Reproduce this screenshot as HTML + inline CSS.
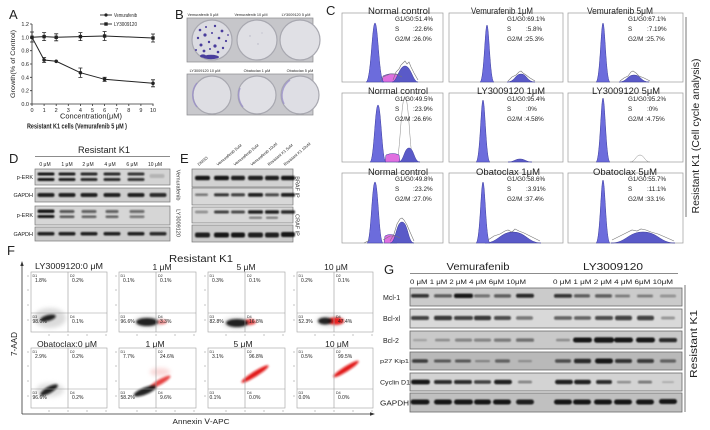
<!DOCTYPE html>
<html><head><meta charset="utf-8">
<style>
html,body{margin:0;padding:0;background:#fff;}
svg{display:block;}
text{font-family:"Liberation Sans",Arial,sans-serif;fill:#222;}
.t5{font-size:5px;fill:#333}
.st{font-size:6.3px;fill:#333}
.ct{font-size:9.5px;fill:#222}
.fl{font-size:5px;fill:#333}
.fd{font-size:3.6px;fill:#555}
.bl{font-size:5.5px;fill:#333}
</style></head><body>
<svg width="710" height="430" viewBox="0 0 710 430" xmlns="http://www.w3.org/2000/svg">
<defs>
<filter id="b1" x="-30%" y="-100%" width="160%" height="300%"><feGaussianBlur stdDeviation="0.7"/></filter>
<filter id="b2" x="-60%" y="-60%" width="220%" height="220%"><feGaussianBlur stdDeviation="2"/></filter>
<filter id="b3" x="-60%" y="-60%" width="220%" height="220%"><feGaussianBlur stdDeviation="1"/></filter>
<filter id="b4" x="-20%" y="-20%" width="140%" height="140%"><feGaussianBlur stdDeviation="0.35"/></filter>
</defs>
<rect width="710" height="430" fill="#fff"/>

<!-- ================= PANEL A ================= -->
<text x="9" y="19" font-size="13">A</text>
<g stroke="#333" stroke-width="0.8" fill="none">
<line x1="32" y1="24" x2="32" y2="104.4"/>
<line x1="31.6" y1="104" x2="153.5" y2="104"/>
<path d="M30 24H32M30 37.3H32M30 50.7H32M30 64H32M30 77.3H32M30 90.7H32M30 104H32"/>
<path d="M32 104V106M44.1 104V106M56.2 104V106M68.3 104V106M80.4 104V106M92.5 104V106M104.6 104V106M116.7 104V106M128.8 104V106M140.9 104V106M153 104V106"/>
</g>
<g font-size="5.5" text-anchor="end" fill="#333">
<text x="29" y="26">1.2</text><text x="29" y="39.3">1.0</text><text x="29" y="52.7">0.8</text><text x="29" y="66">0.6</text><text x="29" y="79.3">0.4</text><text x="29" y="92.7">0.2</text><text x="29" y="106">0.0</text>
</g>
<g font-size="5.5" text-anchor="middle" fill="#333">
<text x="32" y="112">0</text><text x="44.1" y="112">1</text><text x="56.2" y="112">2</text><text x="68.3" y="112">3</text><text x="80.4" y="112">4</text><text x="92.5" y="112">5</text><text x="104.6" y="112">6</text><text x="116.7" y="112">7</text><text x="128.8" y="112">8</text><text x="140.9" y="112">9</text><text x="153" y="112">10</text>
</g>
<text transform="translate(15,64) rotate(-90)" font-size="6" text-anchor="middle" textLength="68" lengthAdjust="spacingAndGlyphs" fill="#333">Growth(% of Control)</text>
<text x="91" y="118.5" font-size="7.5" text-anchor="middle" textLength="62" lengthAdjust="spacingAndGlyphs" fill="#333">Concentration(μM)</text>
<text x="77" y="128.5" font-size="7" font-weight="bold" text-anchor="middle" textLength="100" lengthAdjust="spacingAndGlyphs">Resistant K1 cells (Vemurafenib 5 μM )</text>
<!-- legend -->
<g stroke="#222" stroke-width="0.9">
<line x1="100" y1="15" x2="112" y2="15"/><line x1="100" y1="24" x2="112" y2="24"/>
</g>
<circle cx="106" cy="15" r="1.6" fill="#222"/>
<rect x="104.3" y="22.3" width="3.4" height="3.4" fill="#222"/>
<text x="114" y="17" font-size="5.5" textLength="23" lengthAdjust="spacingAndGlyphs" fill="#444">Vemurafenib</text>
<text x="114" y="26" font-size="5.5" textLength="23" lengthAdjust="spacingAndGlyphs" fill="#444">LY3009120</text>
<!-- series -->
<g stroke="#222" stroke-width="1" fill="none">
<polyline points="32,37.3 44.1,36.6 56.2,37.3 80.4,36.6 104.6,36 153,38"/>
<polyline points="32,37.3 44.1,60 56.2,61.3 80.4,72.7 104.6,79.3 153,83.3"/>
<g stroke-width="0.8">
<path d="M32 32V42M30 32H34M30 42H34"/>
<path d="M44.1 32.6V40.6M42.1 32.6H46.1M42.1 40.6H46.1"/>
<path d="M56.2 33.8V40.8M54.2 33.8H58.2M54.2 40.8H58.2"/>
<path d="M80.4 32.6V40.6M78.4 32.6H82.4M78.4 40.6H82.4"/>
<path d="M104.6 31.5V40.5M102.6 31.5H106.6M102.6 40.5H106.6"/>
<path d="M153 34V42M151 34H155M151 42H155"/>
<path d="M44.1 57.5V62.5M42.1 57.5H46.1M42.1 62.5H46.1"/>
<path d="M80.4 68V77.4M78.4 68H82.4M78.4 77.4H82.4"/>
<path d="M104.6 77.3V81.3M102.6 77.3H106.6M102.6 81.3H106.6"/>
<path d="M153 79.8V86.8M151 79.8H155M151 86.8H155"/>
</g>
</g>
<g fill="#222">
<rect x="30.3" y="35.6" width="3.4" height="3.4"/><rect x="42.4" y="34.9" width="3.4" height="3.4"/><rect x="54.5" y="35.6" width="3.4" height="3.4"/><rect x="78.7" y="34.9" width="3.4" height="3.4"/><rect x="102.9" y="34.3" width="3.4" height="3.4"/><rect x="151.3" y="36.3" width="3.4" height="3.4"/>
<circle cx="44.1" cy="60" r="1.8"/><circle cx="56.2" cy="61.3" r="1.8"/><circle cx="80.4" cy="72.7" r="1.8"/><circle cx="104.6" cy="79.3" r="1.8"/><circle cx="153" cy="83.3" r="1.8"/>
</g>

<!-- ================= PANEL B ================= -->
<text x="175" y="19" font-size="13">B</text>
<g font-size="3.8" fill="#555" text-anchor="middle">
<text x="203" y="16">Vemurafenib 5 μM</text><text x="251" y="16">Vemurafenib 10 μM</text><text x="296" y="16">LY3009120 5 μM</text>
<text x="205" y="72">LY3009120 10 μM</text><text x="257" y="72">Obatoclax 1 μM</text><text x="300" y="72">Obatoclax 5 μM</text>
</g>
<rect x="187" y="18" width="126" height="44" fill="#c6c6ca" stroke="#8a8a8e" stroke-width="0.7"/>
<rect x="187" y="74" width="126" height="41" fill="#c8c8cc" stroke="#8a8a8e" stroke-width="0.7"/>
<g stroke="#a8a8b0" stroke-width="1.2">
<circle cx="212" cy="40" r="20" fill="#dcdce2"/>
<circle cx="257" cy="40" r="20" fill="#dfdfe4"/>
<circle cx="300" cy="40" r="20" fill="#e0e0e5"/>
<circle cx="212" cy="95" r="19" fill="#dedee3"/>
<circle cx="257" cy="95" r="19" fill="#e0e0e5"/>
<circle cx="300" cy="95" r="19" fill="#dedee4"/>
</g>
<clipPath id="cpB"><rect x="187" y="18" width="126" height="97"/></clipPath>
<g clip-path="url(#cpB)" fill="none" stroke="#9a90c8" stroke-width="1.5" opacity="0.8">
<path d="M197 107 A19 19 0 0 1 197 83"/>
<path d="M284 104 A19 19 0 0 1 290 80"/>
<path d="M243 107 A19 19 0 0 1 240 88"/>
</g>
<g fill="#4a3c9c" filter="url(#b4)">
<circle cx="200" cy="30" r="1.3"/><circle cx="206" cy="27" r="1"/><circle cx="215" cy="26" r="1.2"/><circle cx="222" cy="31" r="1.4"/><circle cx="198" cy="38" r="1.2"/><circle cx="205" cy="35" r="1.6"/><circle cx="212" cy="33" r="1"/><circle cx="219" cy="38" r="1.3"/><circle cx="226" cy="41" r="1.1"/><circle cx="201" cy="45" r="1.5"/><circle cx="209" cy="42" r="1.2"/><circle cx="215" cy="46" r="1.6"/><circle cx="223" cy="48" r="1.2"/><circle cx="196" cy="50" r="1"/><circle cx="204" cy="51" r="1.4"/><circle cx="210" cy="49" r="1"/><circle cx="228" cy="35" r="0.9"/><circle cx="218" cy="52" r="1.3"/>
<ellipse cx="211" cy="57" rx="8" ry="2.2"/><ellipse cx="203" cy="56" rx="3" ry="1.6"/>
</g>
<g fill="#9a9ab0" opacity="0.6"><circle cx="250" cy="36" r="0.7"/><circle cx="258" cy="44" r="0.7"/><circle cx="262" cy="33" r="0.6"/></g>

<!-- ================= PANEL C ================= -->
<text x="326" y="15" font-size="13">C</text>
<g fill="#fff" stroke="#9a9a9a" stroke-width="0.7">
<rect x="342" y="13" width="101" height="69"/><rect x="449" y="13" width="114" height="69"/><rect x="568" y="13" width="115" height="69"/>
<rect x="342" y="93" width="101" height="69"/><rect x="449" y="93" width="114" height="69"/><rect x="568" y="93" width="115" height="69"/>
<rect x="342" y="173" width="101" height="70"/><rect x="449" y="173" width="114" height="70"/><rect x="568" y="173" width="115" height="70"/>
</g>
<!-- histograms -->
<g stroke="#3a3a9a" stroke-width="0.5">
<!-- r1c1 -->
<path d="M382 82 L383 76 Q391 72 398 75 L400 82Z" fill="#e070e0"/>
<path d="M392 82 C397 82 399 66 405 66 C411 66 413 82 418 82Z" fill="#5a5ac8"/>
<path d="M366 82 C371 82 372 23 375 23 C378 23 379 82 384 82Z" fill="#6c6cdc"/>
<!-- r1c2 -->
<path d="M507 82 C515 82 515 74 521 74 C527 74 527 82 535 82Z" fill="#5a5ac8"/>
<path d="M480 82 C484 82 485 25 487 25 C489 25 490 82 494 82Z" fill="#6c6cdc"/>
<!-- r1c3 -->
<path d="M619 82 C627 82 627 75 634 75 C641 75 641 82 649 82Z" fill="#5a5ac8"/>
<path d="M596 82 C600 82 601 23 603 23 C605 23 606 82 610 82Z" fill="#6c6cdc"/>
<!-- r2c1 -->
<path d="M396 162 C400 162 401 97 405 97 C409 97 410 162 414 162Z" fill="#fff" stroke="#888"/>
<path d="M385 162 L386 155 Q393 152 399 155 L400 162Z" fill="#e070e0"/>
<path d="M398 162 C404 162 404 148 409 148 C414 148 414 162 420 162Z" fill="#5a5ac8"/>
<path d="M370 162 C374 162 375 105 378 105 C381 105 382 162 386 162Z" fill="#6c6cdc"/>
<!-- r2c2 -->
<path d="M508 162 C514 162 515 159 520 159 C525 159 526 162 532 162Z" fill="#5a5ac8"/>
<path d="M476 162 C480 162 481 100 483 100 C485 100 486 162 490 162Z" fill="#6c6cdc"/>
<!-- r2c3 -->
<path d="M630 162 C635 162 636 155 640 155 C644 155 645 162 650 162Z" fill="none" stroke="#888"/>
<path d="M596 162 C600 162 601 98 603 98 C605 98 606 162 610 162Z" fill="#6c6cdc"/>
<!-- r3c1 -->
<path d="M384 243 L385 236 Q390 233 396 236 L397 243Z" fill="#e070e0"/>
<path d="M390 243 C396 243 396 222 402 222 C408 222 408 243 414 243Z" fill="#5a5ac8"/>
<path d="M367 243 C371 243 372 182 375 182 C378 182 379 243 383 243Z" fill="#6c6cdc"/>
<!-- r3c2 -->
<path d="M485 243 C498 243 500 232 513 232 C526 232 528 243 541 243Z" fill="#5a5ac8"/>
<path d="M476 243 C480 243 481 182 483 182 C485 182 486 243 490 243Z" fill="#6c6cdc"/>
<!-- r3c3 -->
<path d="M611 243 C626 243 628 232 643 232 C658 232 660 243 675 243Z" fill="#5a5ac8"/>
<path d="M596 243 C600 243 601 180 603 180 C605 180 606 243 610 243Z" fill="#6c6cdc"/>
</g>
<g fill="none" stroke="#777" stroke-width="0.6">
<path d="M393 80 L396 72 399 69 401 65 403 63 405 61 407 64 409 62 411 67 414 73 418 80"/>
<path d="M508 81 L512 77 516 75 519 72 521 71 523 73 526 75 530 78 535 81"/>
<path d="M620 81 L624 78 628 76 631 72 633 71 636 73 639 76 644 78 650 81"/>
<path d="M390 241 L394 234 397 224 400 219 402 218 404 220 407 225 410 232 414 241"/>
<path d="M488 240 L494 236 500 234 505 231 508 230 512 232 515 229 519 231 524 233 530 236 540 241"/>
<path d="M612 240 L620 236 626 233 632 230 637 231 641 229 646 230 651 232 658 234 665 237 674 241"/>
<path d="M380 82 L383 77 390 74 397 74 402 77"/>
<path d="M364 243 L370 240 M383 240 L390 236 396 236 400 238"/>
</g>
<!-- C titles -->
<g class="ct" text-anchor="middle">
<text x="399" y="14" textLength="62" lengthAdjust="spacingAndGlyphs">Normal control</text>
<text x="502" y="14" textLength="62" lengthAdjust="spacingAndGlyphs">Vemurafenib 1μM</text>
<text x="620" y="14" textLength="66" lengthAdjust="spacingAndGlyphs">Vemurafenib 5μM</text>
<text x="398" y="94" textLength="60" lengthAdjust="spacingAndGlyphs">Normal control</text>
<text x="511" y="94" textLength="68" lengthAdjust="spacingAndGlyphs">LY3009120 1μM</text>
<text x="626" y="94" textLength="68" lengthAdjust="spacingAndGlyphs">LY3009120 5μM</text>
<text x="398" y="175" textLength="60" lengthAdjust="spacingAndGlyphs">Normal control</text>
<text x="508" y="175" textLength="64" lengthAdjust="spacingAndGlyphs">Obatoclax 1μM</text>
<text x="625" y="175" textLength="64" lengthAdjust="spacingAndGlyphs">Obatoclax 5μM</text>
</g>
<!-- C stats -->
<g class="st">
<text x="395" y="21">G1/G0:51.4%</text><text x="395" y="31">S</text><text x="413" y="31">:22.6%</text><text x="395" y="41">G2/M :26.0%</text>
<text x="507" y="21">G1/G0:69.1%</text><text x="507" y="31">S</text><text x="526" y="31">:5.8%</text><text x="507" y="41">G2/M :25.3%</text>
<text x="628" y="21">G1/G0:67.1%</text><text x="628" y="31">S</text><text x="647" y="31">:7.19%</text><text x="628" y="41">G2/M :25.7%</text>
<text x="395" y="101">G1/G0:49.5%</text><text x="395" y="111">S</text><text x="413" y="111">:23.9%</text><text x="395" y="121">G2/M :26.6%</text>
<text x="507" y="101">G1/G0:95.4%</text><text x="507" y="111">S</text><text x="526" y="111">:0%</text><text x="507" y="121">G2/M :4.58%</text>
<text x="628" y="101">G1/G0:95.2%</text><text x="628" y="111">S</text><text x="647" y="111">:0%</text><text x="628" y="121">G2/M :4.75%</text>
<text x="395" y="181">G1/G0:49.8%</text><text x="395" y="191">S</text><text x="413" y="191">:23.2%</text><text x="395" y="201">G2/M :27.0%</text>
<text x="507" y="181">G1/G0:58.6%</text><text x="507" y="191">S</text><text x="526" y="191">:3.91%</text><text x="507" y="201">G2/M :37.4%</text>
<text x="628" y="181">G1/G0:55.7%</text><text x="628" y="191">S</text><text x="647" y="191">:11.1%</text><text x="628" y="201">G2/M :33.1%</text>
</g>
<line x1="686" y1="17" x2="686" y2="217" stroke="#555" stroke-width="0.8"/>
<text transform="translate(699,136) rotate(-90)" font-size="10" text-anchor="middle" textLength="155" lengthAdjust="spacingAndGlyphs">Resistant K1 (Cell cycle analysis)</text>

<!-- ================= PANEL D ================= -->
<text x="9" y="163" font-size="13">D</text>
<text x="104" y="153" font-size="9" text-anchor="middle" textLength="52" lengthAdjust="spacingAndGlyphs">Resistant K1</text>
<line x1="35" y1="156.5" x2="170" y2="156.5" stroke="#666" stroke-width="0.7"/>
<g class="t5" text-anchor="middle">
<text x="45" y="166">0 μM</text><text x="67" y="166">1 μM</text><text x="88" y="166">2 μM</text><text x="110" y="166">4 μM</text><text x="132" y="166">6 μM</text><text x="155" y="166">10 μM</text>
</g>
<g stroke="#777" stroke-width="0.7">
<rect x="35" y="169" width="135" height="16" fill="#d4d4d4"/>
<rect x="35" y="188" width="135" height="14" fill="#cdcdcd"/>
<rect x="35" y="206" width="135" height="19" fill="#d6d6d6"/>
<rect x="35" y="227" width="135" height="14" fill="#cbcbcb"/>
</g>
<g fill="#111" filter="url(#b1)">
<!-- r1 double -->
<rect x="37.5" y="172.5" width="17" height="3" rx="1.5" opacity=".95"/><rect x="37.5" y="178" width="17" height="3" rx="1.5" opacity=".95"/>
<rect x="58.5" y="172.5" width="17" height="3" rx="1.5" opacity=".9"/><rect x="58.5" y="178" width="17" height="3" rx="1.5" opacity=".9"/>
<rect x="80.5" y="172.5" width="17" height="3" rx="1.5" opacity=".85"/><rect x="80.5" y="178" width="17" height="3" rx="1.5" opacity=".85"/>
<rect x="103.5" y="172.5" width="17" height="3" rx="1.5" opacity=".85"/><rect x="103.5" y="178" width="17" height="3" rx="1.5" opacity=".85"/>
<rect x="127.5" y="172.5" width="17" height="3" rx="1.5" opacity=".8"/><rect x="127.5" y="178" width="17" height="3" rx="1.5" opacity=".8"/>
<rect x="149.5" y="174" width="15" height="4" rx="1.5" opacity=".15"/>
<!-- r2 -->
<rect x="37.5" y="193" width="17" height="4" rx="2" opacity=".9"/><rect x="58.5" y="193" width="17" height="4" rx="2" opacity=".9"/><rect x="80.5" y="193" width="17" height="4" rx="2" opacity=".9"/><rect x="103.5" y="193" width="17" height="4" rx="2" opacity=".9"/><rect x="127.5" y="193" width="17" height="4" rx="2" opacity=".9"/><rect x="149.5" y="193" width="17" height="4" rx="2" opacity=".85"/>
<!-- r3 double -->
<rect x="37.5" y="209.5" width="17" height="3.5" rx="1.5" opacity=".95"/><rect x="37.5" y="215" width="17" height="3" rx="1.5" opacity=".95"/>
<rect x="59.5" y="210" width="15" height="3" rx="1.5" opacity=".65"/><rect x="59.5" y="215.5" width="15" height="2.5" rx="1.2" opacity=".65"/>
<rect x="81.5" y="210" width="15" height="3" rx="1.5" opacity=".6"/><rect x="81.5" y="215.5" width="15" height="2.5" rx="1.2" opacity=".6"/>
<rect x="105.5" y="210" width="13" height="3" rx="1.5" opacity=".6"/><rect x="105.5" y="215.5" width="13" height="2.5" rx="1.2" opacity=".6"/>
<rect x="129.5" y="210" width="15" height="3" rx="1.5" opacity=".55"/><rect x="129.5" y="215.5" width="15" height="2.5" rx="1.2" opacity=".5"/>
<!-- r4 -->
<rect x="37.5" y="232" width="17" height="3.5" rx="1.7" opacity=".9"/><rect x="58.5" y="232" width="17" height="3.5" rx="1.7" opacity=".9"/><rect x="80.5" y="232" width="17" height="3.5" rx="1.7" opacity=".9"/><rect x="103.5" y="232" width="17" height="3.5" rx="1.7" opacity=".9"/><rect x="127.5" y="232" width="17" height="3.5" rx="1.7" opacity=".9"/><rect x="149.5" y="232" width="17" height="3.5" rx="1.7" opacity=".85"/>
</g>
<g class="bl" text-anchor="end">
<text x="33" y="179">p-ERK</text><text x="33" y="197">GAPDH</text><text x="33" y="217">p-ERK</text><text x="33" y="236">GAPDH</text>
</g>
<text transform="translate(176.5,185) rotate(90)" class="bl" text-anchor="middle">Vemurafenib</text>
<text transform="translate(176.5,223) rotate(90)" class="bl" text-anchor="middle">LY3009120</text>

<!-- ================= PANEL E ================= -->
<text x="180" y="163" font-size="13">E</text>
<g font-size="4" fill="#444">
<text transform="translate(199,166) rotate(-40)">DMSO</text>
<text transform="translate(218,166) rotate(-40)">Vemurafenib 5uM</text>
<text transform="translate(235,166) rotate(-40)">Vemurafenib 5uM</text>
<text transform="translate(252,166) rotate(-40)">Vemurafenib 10uM</text>
<text transform="translate(269,166) rotate(-40)">Resistant K1 5uM</text>
<text transform="translate(285,166) rotate(-40)">Resistant K1 10uM</text>
</g>
<g stroke="#777" stroke-width="0.7">
<rect x="192" y="169" width="101" height="18" fill="#d2d2d2"/>
<rect x="192" y="188" width="101" height="17" fill="#d8d8d8"/>
<rect x="192" y="207" width="101" height="16" fill="#d8d8d8"/>
<rect x="192" y="225" width="101" height="17" fill="#cbcbcb"/>
</g>
<g fill="#111" filter="url(#b1)">
<rect x="195" y="175.8" width="15" height="4.5" rx="2" opacity=".95"/><rect x="214" y="175.8" width="15" height="4.5" rx="2" opacity=".95"/><rect x="231" y="175.8" width="14" height="4.5" rx="2" opacity=".9"/><rect x="248" y="175.8" width="15" height="4.5" rx="2" opacity=".9"/><rect x="265" y="175.8" width="14" height="4.5" rx="2" opacity=".9"/><rect x="281" y="175.8" width="14" height="4.5" rx="2" opacity=".95"/>
<rect x="195" y="193.5" width="13" height="2.5" rx="1.2" opacity=".5"/><rect x="214" y="193.2" width="15" height="3.2" rx="1.5" opacity=".8"/><rect x="231" y="193.2" width="14" height="3.2" rx="1.5" opacity=".75"/><rect x="248" y="193" width="15" height="3.8" rx="1.5" opacity=".9"/><rect x="265" y="193.2" width="14" height="3.2" rx="1.5" opacity=".7"/><rect x="281" y="193" width="14" height="3.8" rx="1.5" opacity=".9"/>
<rect x="195" y="210.8" width="13" height="2.4" rx="1.2" opacity=".4"/><rect x="214" y="210.5" width="15" height="3" rx="1.5" opacity=".75"/><rect x="231" y="210.5" width="14" height="3" rx="1.5" opacity=".7"/><rect x="248" y="210.2" width="15" height="3.5" rx="1.5" opacity=".9"/><rect x="265" y="210.2" width="14" height="3.5" rx="1.5" opacity=".9"/><rect x="281" y="210.2" width="14" height="3.5" rx="1.5" opacity=".85"/>
<rect x="249" y="216.8" width="13" height="2" rx="1" opacity=".5"/><rect x="266" y="216.8" width="12" height="2" rx="1" opacity=".5"/>
<rect x="195" y="232.5" width="15" height="5" rx="2" opacity=".9"/><rect x="214" y="232.5" width="15" height="5" rx="2" opacity=".95"/><rect x="231" y="232.5" width="14" height="5" rx="2" opacity=".95"/><rect x="248" y="232.5" width="15" height="5" rx="2" opacity=".9"/><rect x="265" y="232.5" width="14" height="5" rx="2" opacity=".9"/><rect x="281" y="232" width="14" height="5" rx="2" opacity=".95"/>
</g>
<text transform="translate(295.5,187) rotate(90)" class="bl" text-anchor="middle">BRAF IP</text>
<text transform="translate(295.5,225) rotate(90)" class="bl" text-anchor="middle">CRAF IP</text>

<!-- ================= PANEL F ================= -->
<text x="7" y="255" font-size="13">F</text>
<text x="201" y="262" font-size="10" text-anchor="middle" textLength="64" lengthAdjust="spacingAndGlyphs">Resistant K1</text>
<g font-size="8.5" text-anchor="middle">
<text x="69" y="269" textLength="68" lengthAdjust="spacingAndGlyphs">LY3009120:0 μM</text>
<text x="162" y="270">1 μM</text><text x="246" y="270">5 μM</text><text x="336" y="270">10 μM</text>
<text x="67" y="347" textLength="60" lengthAdjust="spacingAndGlyphs">Obatoclax:0 μM</text>
<text x="155" y="347">1 μM</text><text x="243" y="347">5 μM</text><text x="337" y="347">10 μM</text>
</g>
<!-- axes -->
<g stroke="#333" stroke-width="0.8" fill="none">
<line x1="22" y1="264" x2="22" y2="414"/>
<line x1="22" y1="414" x2="372" y2="414"/>
</g>
<path d="M22 261 L20.3 266 L23.7 266Z" fill="#333"/>
<path d="M375 414 L370 412.3 L370 415.7Z" fill="#333"/>
<text transform="translate(17,344) rotate(-90)" font-size="8" text-anchor="middle" textLength="24" lengthAdjust="spacingAndGlyphs">7-AAD</text>
<text x="201" y="424" font-size="7.5" text-anchor="middle" textLength="57" lengthAdjust="spacingAndGlyphs">Annexin Ⅴ-APC</text>
<!-- plot frames -->
<g fill="#fff" stroke="#a0a0a0" stroke-width="0.6">
<rect x="31" y="272" width="76" height="60"/><rect x="119" y="272" width="77" height="60"/><rect x="208" y="272" width="77" height="60"/><rect x="297" y="272" width="76" height="60"/>
<rect x="31" y="348" width="76" height="60"/><rect x="119" y="348" width="77" height="60"/><rect x="208" y="348" width="77" height="60"/><rect x="297" y="348" width="76" height="60"/>
</g>
<!-- clouds -->
<g>
<ellipse cx="50" cy="318" rx="16" ry="10" fill="#999" opacity=".35" filter="url(#b2)"/>
<ellipse cx="48" cy="318" rx="8" ry="3" fill="#111" opacity=".9" filter="url(#b3)" transform="rotate(-15 48 318)"/>
<ellipse cx="148" cy="322" rx="14" ry="6" fill="#aaa" opacity=".4" filter="url(#b2)"/>
<ellipse cx="162" cy="322" rx="5" ry="2.5" fill="#e02020" opacity=".5" filter="url(#b3)"/>
<ellipse cx="147" cy="322" rx="11" ry="4" fill="#111" opacity=".9" filter="url(#b3)"/>
<ellipse cx="237" cy="323" rx="14" ry="6" fill="#aaa" opacity=".4" filter="url(#b2)"/>
<ellipse cx="250" cy="322" rx="6" ry="3" fill="#e01818" opacity=".75" filter="url(#b3)"/>
<ellipse cx="237" cy="323" rx="11" ry="4" fill="#111" opacity=".9" filter="url(#b3)"/>
<ellipse cx="330" cy="321" rx="14" ry="6" fill="#aaa" opacity=".35" filter="url(#b2)"/>
<ellipse cx="336" cy="321" rx="8" ry="3.8" fill="#e81010" opacity=".9" filter="url(#b3)"/>
<ellipse cx="325" cy="321" rx="7" ry="3.5" fill="#111" opacity=".9" filter="url(#b3)"/>
<ellipse cx="50" cy="390" rx="14" ry="7" fill="#aaa" opacity=".35" filter="url(#b2)"/>
<ellipse cx="49" cy="390" rx="10" ry="3.2" fill="#111" opacity=".9" filter="url(#b3)" transform="rotate(-30 49 390)"/>
<ellipse cx="160" cy="382" rx="12" ry="2.6" fill="#e01818" opacity=".8" filter="url(#b3)" transform="rotate(-30 160 382)"/>
<ellipse cx="160" cy="372" rx="10" ry="4" fill="#f09090" opacity=".35" filter="url(#b2)"/>
<ellipse cx="145" cy="391" rx="12" ry="3.5" fill="#111" opacity=".9" filter="url(#b3)" transform="rotate(-22 145 391)"/>
<ellipse cx="255" cy="374" rx="16" ry="2.6" fill="#e01010" opacity=".95" filter="url(#b3)" transform="rotate(-32 255 374)"/>
<ellipse cx="346" cy="369" rx="15" ry="2.6" fill="#e01010" opacity=".95" filter="url(#b3)" transform="rotate(-32 346 369)"/>
</g>
<!-- quadrant lines -->
<g stroke="#999" stroke-width="0.6">
<path d="M68 272V332M31 313H107M156 272V332M119 313H196M245 272V332M208 313H285M334 272V332M297 313H373"/>
<path d="M68 348V408M31 389H107M156 348V408M119 389H196M245 348V408M208 389H285M334 348V408M297 389H373"/>
</g>
<!-- quadrant labels -->
<g class="fd">
<text x="32.5" y="277">D1</text><text x="70" y="277">D2</text><text x="32.5" y="318">D3</text><text x="70" y="318">D4</text>
<text x="120.5" y="277">D1</text><text x="158" y="277">D2</text><text x="120.5" y="318">D3</text><text x="158" y="318">D4</text>
<text x="209.5" y="277">D1</text><text x="247" y="277">D2</text><text x="209.5" y="318">D3</text><text x="247" y="318">D4</text>
<text x="298.5" y="277">D1</text><text x="336" y="277">D2</text><text x="298.5" y="318">D3</text><text x="336" y="318">D4</text>
<text x="32.5" y="353">D1</text><text x="70" y="353">D2</text><text x="32.5" y="394">D3</text><text x="70" y="394">D4</text>
<text x="120.5" y="353">D1</text><text x="158" y="353">D2</text><text x="120.5" y="394">D3</text><text x="158" y="394">D4</text>
<text x="209.5" y="353">D1</text><text x="247" y="353">D2</text><text x="209.5" y="394">D3</text><text x="247" y="394">D4</text>
<text x="298.5" y="353">D1</text><text x="336" y="353">D2</text><text x="298.5" y="394">D3</text><text x="336" y="394">D4</text>
</g>
<g class="fl">
<text x="35" y="282">1.8%</text><text x="72" y="282">0.2%</text><text x="32.5" y="323">98.0%</text><text x="72" y="323">0.1%</text>
<text x="123" y="282">0.1%</text><text x="160" y="282">0.1%</text><text x="120.5" y="323">96.6%</text><text x="160" y="323">3.3%</text>
<text x="212" y="282">0.3%</text><text x="249" y="282">0.1%</text><text x="209.5" y="323">82.8%</text><text x="249" y="323">16.8%</text>
<text x="301" y="282">0.2%</text><text x="338" y="282">0.1%</text><text x="298.5" y="323">52.3%</text><text x="338" y="323">47.4%</text>
<text x="35" y="358">2.9%</text><text x="72" y="358">0.2%</text><text x="32.5" y="399">96.6%</text><text x="72" y="399">0.2%</text>
<text x="123" y="358">7.7%</text><text x="160" y="358">24.6%</text><text x="120.5" y="399">58.2%</text><text x="160" y="399">9.6%</text>
<text x="212" y="358">3.1%</text><text x="249" y="358">96.8%</text><text x="209.5" y="399">0.1%</text><text x="249" y="399">0.0%</text>
<text x="301" y="358">0.5%</text><text x="338" y="358">99.5%</text><text x="298.5" y="399">0.0%</text><text x="338" y="399">0.0%</text>
</g>
<!-- tick marks -->
<g stroke="#888" stroke-width="0.5">
<path d="M27 276H29M27 290H29M27 305H29M27 320H29M27 352H29M27 366H29M27 381H29M27 396H29"/>
<path d="M115 276H117M115 290H117M115 305H117M115 320H117M115 352H117M115 366H117M115 381H117M115 396H117"/>
<path d="M204 276H206M204 290H206M204 305H206M204 320H206M204 352H206M204 366H206M204 381H206M204 396H206"/>
<path d="M293 276H295M293 290H295M293 305H295M293 320H295M293 352H295M293 366H295M293 381H295M293 396H295"/>
<path d="M49 334V336M68 334V336M87 334V336M106 334V336M137 334V336M156 334V336M175 334V336M194 334V336M226 334V336M245 334V336M264 334V336M283 334V336M315 334V336M334 334V336M353 334V336M372 334V336"/>
<path d="M49 410V412M68 410V412M87 410V412M106 410V412M137 410V412M156 410V412M175 410V412M194 410V412M226 410V412M245 410V412M264 410V412M283 410V412M315 410V412M334 410V412M353 410V412M372 410V412"/>
</g>

<!-- ================= PANEL G ================= -->
<text x="384" y="274" font-size="13">G</text>
<text x="478" y="270" font-size="10" text-anchor="middle" textLength="63" lengthAdjust="spacingAndGlyphs">Vemurafenib</text>
<text x="613" y="270" font-size="10" text-anchor="middle" textLength="60" lengthAdjust="spacingAndGlyphs">LY3009120</text>
<line x1="410" y1="273.5" x2="678" y2="273.5" stroke="#666" stroke-width="0.7"/>
<text x="410" y="284" font-size="6.5" textLength="116" lengthAdjust="spacingAndGlyphs" fill="#333">0 μM 1 μM 2 μM 4 μM 6μM 10μM</text>
<text x="553" y="284" font-size="6.5" textLength="120" lengthAdjust="spacingAndGlyphs" fill="#333">0 μM 1 μM 2 μM 4 μM 6μM 10μM</text>
<g stroke="#6a6a6a" stroke-width="0.8">
<rect x="410" y="288" width="272" height="18" fill="#cbcbcb"/>
<rect x="410" y="309" width="272" height="19" fill="#d9d9d9"/>
<rect x="410" y="331" width="272" height="18" fill="#c9c9c9"/>
<rect x="410" y="352" width="272" height="18" fill="#b9b9b9"/>
<rect x="410" y="373" width="272" height="18" fill="#d3d3d3"/>
<rect x="410" y="393" width="272" height="19" fill="#c0c0c0"/>
</g>
<g fill="#111" filter="url(#b1)">
<!-- Mcl-1 y296 -->
<rect x="411" y="294" width="18" height="3.6" rx="1.8" opacity=".8"/><rect x="434" y="294.3" width="18" height="3.2" rx="1.6" opacity=".6"/><rect x="454" y="293.6" width="19" height="4.4" rx="2" opacity=".95"/><rect x="474" y="294.4" width="16" height="3" rx="1.5" opacity=".5"/><rect x="494" y="294.2" width="17" height="3.4" rx="1.6" opacity=".6"/><rect x="516" y="293.8" width="18" height="4" rx="2" opacity=".85"/>
<rect x="554" y="294" width="18" height="3.8" rx="1.8" opacity=".8"/><rect x="574" y="294.3" width="16" height="3.2" rx="1.6" opacity=".6"/><rect x="595" y="294.2" width="17" height="3.4" rx="1.6" opacity=".6"/><rect x="615" y="294.6" width="15" height="2.8" rx="1.4" opacity=".45"/><rect x="637" y="294.6" width="16" height="2.8" rx="1.4" opacity=".45"/><rect x="660" y="294.7" width="16" height="2.6" rx="1.3" opacity=".35"/>
<!-- Bcl-xl y318 -->
<rect x="411" y="316" width="18" height="4" rx="2" opacity=".75"/><rect x="434" y="315.8" width="18" height="4.4" rx="2" opacity=".8"/><rect x="454" y="316" width="19" height="4" rx="2" opacity=".75"/><rect x="474" y="315.8" width="17" height="4.4" rx="2" opacity=".8"/><rect x="494" y="316" width="17" height="4" rx="2" opacity=".7"/><rect x="516" y="316.2" width="17" height="3.6" rx="1.8" opacity=".5"/>
<rect x="554" y="316.2" width="18" height="3.6" rx="1.8" opacity=".6"/><rect x="574" y="316.2" width="17" height="3.6" rx="1.8" opacity=".6"/><rect x="595" y="316" width="18" height="4" rx="2" opacity=".7"/><rect x="615" y="315.8" width="17" height="4.4" rx="2" opacity=".75"/><rect x="637" y="315.8" width="17" height="4.4" rx="2" opacity=".75"/><rect x="661" y="316.5" width="14" height="3" rx="1.5" opacity=".3"/>
<!-- Bcl-2 y340 -->
<rect x="413" y="339" width="14" height="2.2" rx="1.1" opacity=".2"/><rect x="435" y="338.8" width="15" height="2.6" rx="1.3" opacity=".3"/><rect x="455" y="338.6" width="17" height="3" rx="1.5" opacity=".4"/><rect x="474" y="338.6" width="17" height="3" rx="1.5" opacity=".4"/><rect x="494" y="338.5" width="17" height="3.2" rx="1.5" opacity=".45"/><rect x="516" y="338.4" width="18" height="3.4" rx="1.6" opacity=".5"/>
<rect x="556" y="338.8" width="14" height="2.6" rx="1.3" opacity=".3"/><rect x="573" y="337.5" width="19" height="5" rx="2.4" opacity=".95"/><rect x="594" y="337.3" width="20" height="5.4" rx="2.5" opacity=".95"/><rect x="614" y="337.5" width="19" height="5" rx="2.4" opacity=".95"/><rect x="636" y="337.5" width="19" height="5" rx="2.4" opacity=".95"/><rect x="659" y="338" width="18" height="4.2" rx="2" opacity=".85"/>
<!-- p27 y361 -->
<rect x="412" y="359.2" width="16" height="3.6" rx="1.8" opacity=".75"/><rect x="434" y="359.5" width="17" height="3" rx="1.5" opacity=".6"/><rect x="455" y="359.5" width="16" height="3" rx="1.5" opacity=".6"/><rect x="475" y="360" width="15" height="2.2" rx="1.1" opacity=".3"/><rect x="495" y="359.4" width="15" height="3.2" rx="1.6" opacity=".55"/><rect x="518" y="360" width="14" height="2.2" rx="1.1" opacity=".25"/>
<rect x="555" y="359.3" width="16" height="3.4" rx="1.7" opacity=".65"/><rect x="574" y="358.8" width="17" height="4.4" rx="2" opacity=".85"/><rect x="595" y="358.5" width="18" height="5" rx="2.4" opacity=".95"/><rect x="615" y="359" width="17" height="4" rx="2" opacity=".8"/><rect x="637" y="359" width="17" height="4" rx="2" opacity=".75"/><rect x="660" y="359.4" width="16" height="3.2" rx="1.6" opacity=".55"/>
<!-- Cyclin D1 y382 -->
<rect x="411" y="379.6" width="19" height="4.8" rx="2.4" opacity=".95"/><rect x="434" y="380" width="18" height="4" rx="2" opacity=".85"/><rect x="454" y="380" width="18" height="4" rx="2" opacity=".85"/><rect x="474" y="380.3" width="17" height="3.4" rx="1.7" opacity=".75"/><rect x="494" y="379.8" width="18" height="4.4" rx="2.2" opacity=".9"/><rect x="518" y="380.7" width="14" height="2.6" rx="1.3" opacity=".45"/>
<rect x="555" y="379.8" width="18" height="4.4" rx="2.2" opacity=".9"/><rect x="574" y="379.8" width="17" height="4.4" rx="2.2" opacity=".9"/><rect x="596" y="380" width="16" height="4" rx="2" opacity=".85"/><rect x="617" y="381" width="14" height="2.2" rx="1.1" opacity=".4"/><rect x="638" y="380.8" width="14" height="2.6" rx="1.3" opacity=".5"/><rect x="662" y="381.2" width="12" height="1.8" rx=".9" opacity=".2"/>
<!-- GAPDH y402 -->
<rect x="410.5" y="399.5" width="19" height="5" rx="2.5" opacity=".95"/><rect x="434" y="399.5" width="18" height="5" rx="2.5" opacity=".95"/><rect x="454" y="399.5" width="19" height="5" rx="2.5" opacity=".95"/><rect x="474" y="399.5" width="17" height="5" rx="2.5" opacity=".95"/><rect x="493" y="399.5" width="18" height="5" rx="2.5" opacity=".95"/><rect x="516" y="399.5" width="18" height="5" rx="2.5" opacity=".9"/>
<rect x="554" y="399.5" width="18" height="5" rx="2.5" opacity=".95"/><rect x="573" y="399.5" width="18" height="5" rx="2.5" opacity=".95"/><rect x="594" y="399.5" width="18" height="5" rx="2.5" opacity=".95"/><rect x="614" y="399.5" width="18" height="5" rx="2.5" opacity=".95"/><rect x="636" y="399.5" width="18" height="5" rx="2.5" opacity=".95"/><rect x="659" y="399" width="18" height="5" rx="2.5" opacity=".95"/>
</g>
<g fill="#333">
<text x="383" y="300" font-size="7">Mcl-1</text>
<text x="383" y="321" font-size="7">Bcl-xl</text>
<text x="383" y="343" font-size="7">Bcl-2</text>
<text x="380" y="363" font-size="5.5" textLength="29" lengthAdjust="spacingAndGlyphs">p27 Kip1</text>
<text x="380" y="384.5" font-size="6" textLength="30" lengthAdjust="spacingAndGlyphs">Cyclin D1</text>
<text x="380" y="405.5" font-size="7.5" textLength="29" lengthAdjust="spacingAndGlyphs">GAPDH</text>
</g>
<line x1="685" y1="285" x2="685" y2="412" stroke="#555" stroke-width="0.8"/>
<text transform="translate(697,344) rotate(-90)" font-size="10" text-anchor="middle" textLength="68" lengthAdjust="spacingAndGlyphs">Resistant K1</text>
</svg>
</body></html>
